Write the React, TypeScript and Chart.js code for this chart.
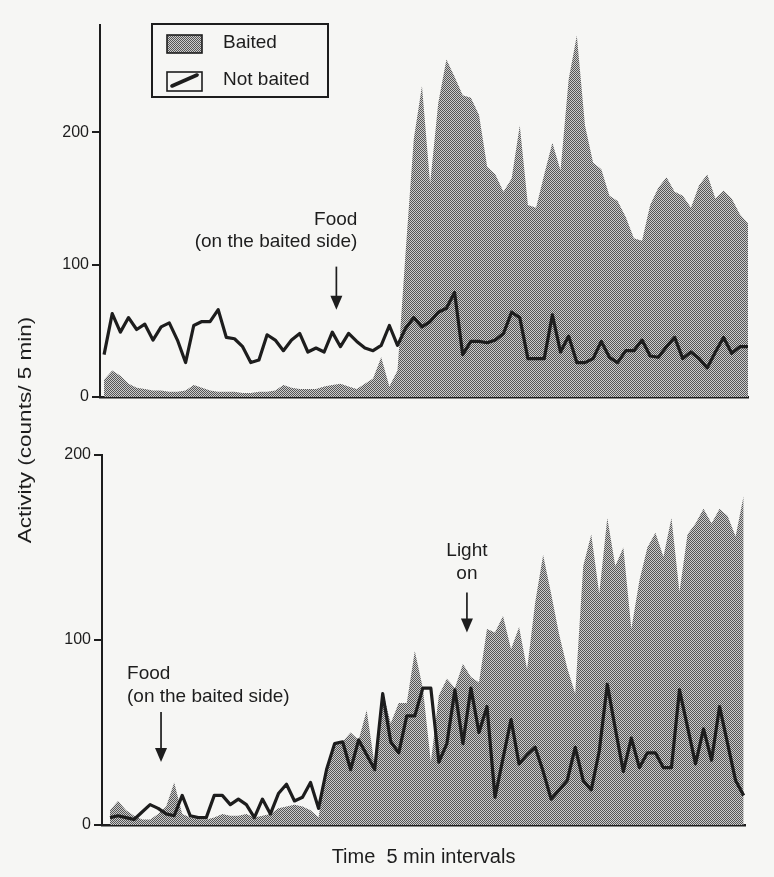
import React, { useEffect, useRef } from 'react';
import { Chart, registerables } from 'chart.js';

Chart.register(...registerables);

// ---------- data (counts / 5 min, one value per 5-min interval) ----------
const TOP_NOT_BAITED = [
  32, 63, 49, 60, 51, 55, 43, 53, 56, 43,
  26, 54, 57, 57, 66, 45, 44, 38, 26, 28,
  47, 43, 35, 43, 48, 34, 37, 34, 49, 38,
  48, 42, 37, 35, 39, 54, 39, 52, 60, 53,
  57, 64, 67, 79, 32, 42, 42, 41, 43, 48,
  64, 60, 29, 29, 29, 62, 34, 46, 26, 26,
  29, 42, 30, 26, 35, 35, 43, 31, 30, 38,
  45, 29, 34, 29, 22, 34, 45, 33, 38, 38,
];
const TOP_BAITED = [
  13, 20, 16, 10, 7, 6, 5, 5, 4, 4,
  5, 9, 7, 5, 4, 4, 4, 3, 3, 4,
  4, 5, 9, 7, 6, 6, 6, 8, 9, 10,
  8, 6, 10, 14, 30, 8, 20, 110, 195, 235,
  161, 222, 255, 242, 228, 226, 213, 174, 168, 155,
  165, 205, 145, 143, 168, 192, 171, 240, 273, 205,
  177, 172, 152, 148, 136, 120, 118, 145, 158, 166,
  155, 152, 143, 160, 168, 150, 156, 150, 138, 131,
];
const BOTTOM_NOT_BAITED = [
  4, 5, 4, 3, 7, 11, 9, 6, 5, 16,
  5, 4, 4, 16, 16, 11, 14, 11, 4, 14,
  6, 17, 22, 13, 15, 23, 9, 30, 44, 45,
  30, 46, 38, 30, 71, 45, 39, 59, 59, 74,
  74, 34, 44, 73, 44, 74, 50, 64, 15, 36,
  57, 33, 38, 42, 29, 14, 19, 24, 42, 24,
  19, 40, 76, 52, 29, 47, 31, 39, 39, 31,
  31, 73, 53, 33, 52, 35, 64, 44, 24, 16,
];
const BOTTOM_BAITED = [
  8, 13, 8, 5, 3, 3, 6, 10, 23, 6,
  4, 3, 3, 4, 6, 5, 5, 6, 4, 5,
  6, 9, 10, 11, 10, 8, 4, 32, 44, 45,
  50, 46, 62, 32, 72, 55, 66, 66, 94, 74,
  34, 70, 79, 74, 87, 80, 77, 106, 104, 113,
  95, 107, 84, 120, 146, 125, 103, 85, 71, 140,
  157, 125, 166, 140, 150, 106, 132, 150, 158, 145,
  166, 126, 157, 163, 171, 163, 171, 167, 156, 178,
];
const Y_TICKS_TOP = [0, 100, 200];
const Y_TICKS_BOTTOM = [0, 100, 200];
const SERIES_LABELS = ['Baited', 'Not baited'];
const Y_TITLE = 'Activity (counts/ 5 min)';
const X_TITLE = 'Time  5 min intervals';

const TOP_NOTES = [
  { lines: ['Food', '(on the baited side)'], index: 28.5, value: 66, arrowLen: 43, align: 'right', dx: 21, dy: -90, gap: 22 },
];
const BOTTOM_NOTES = [
  { lines: ['Food', '(on the baited side)'], index: 6.36, value: 34, arrowLen: 50, align: 'left', dx: -34, dy: -88, gap: 23 },
  { lines: ['Light', 'on'], index: 44.5, value: 104, arrowLen: 40, align: 'center', dx: 0, dy: -82, gap: 23 },
];

// ---------- styling ----------
const W = 774;
const H = 877;
const FONT = '"Liberation Sans", Arial, Helvetica, sans-serif';
const INK = '#1d1d1d';
const PAPER = '#f6f6f4';

function makeStipple(ctx: CanvasRenderingContext2D): CanvasPattern | string {
  const c = document.createElement('canvas');
  c.width = 2;
  c.height = 2;
  const g = c.getContext('2d');
  if (!g) return '#999';
  g.fillStyle = '#cccccc';
  g.fillRect(0, 0, 2, 2);
  g.fillStyle = '#555555';
  g.fillRect(0, 0, 1, 1);
  g.fillRect(1, 1, 1, 1);
  return ctx.createPattern(c, 'repeat') || '#999';
}

const toXY = (arr: number[]) => arr.map((v, i) => ({ x: i, y: v }));

function yScale(max: number, ticks: number[], width: number) {
  return {
    type: 'linear',
    min: 0,
    max,
    afterBuildTicks: (s: any) => {
      s.ticks = ticks.map((v) => ({ value: v }));
    },
    afterFit: (s: any) => {
      s.width = width;
    },
    ticks: { color: INK, font: { family: FONT, size: 16 }, padding: 3 },
    grid: { drawOnChartArea: false, drawTicks: true, tickLength: 8, color: INK, lineWidth: 2 },
    border: { display: true, color: INK, width: 2 },
  };
}

function xScale(min: number, max: number, height: number, title?: string) {
  return {
    type: 'linear',
    min,
    max,
    afterFit: (s: any) => {
      s.height = height;
    },
    ticks: { display: false },
    grid: { display: false },
    border: { display: true, color: INK, width: 2.5 },
    title: title
      ? { display: true, text: title, color: INK, font: { family: FONT, size: 20 }, padding: { top: 0, bottom: 8 } }
      : { display: false },
  };
}

function datasets(notBaited: number[], baited: number[], pattern: CanvasPattern | string) {
  return [
    {
      label: SERIES_LABELS[1],
      data: toXY(notBaited),
      borderColor: INK,
      borderWidth: 3.2,
      borderJoinStyle: 'round',
      pointRadius: 0,
      tension: 0,
      fill: false,
      order: 0,
    },
    {
      label: SERIES_LABELS[0],
      data: toXY(baited),
      backgroundColor: pattern,
      borderColor: 'rgba(0,0,0,0)',
      borderWidth: 0,
      pointRadius: 0,
      tension: 0,
      fill: 'origin',
      order: 1,
    },
  ];
}

function drawNotes(chart: any, notes: any[]) {
  const { ctx, scales } = chart;
  notes.forEach((n) => {
    const x = scales.x.getPixelForValue(n.index);
    const tip = scales.y.getPixelForValue(n.value);
    ctx.save();
    ctx.strokeStyle = INK;
    ctx.fillStyle = INK;
    ctx.lineWidth = 1.7;
    ctx.beginPath();
    ctx.moveTo(x, tip - n.arrowLen);
    ctx.lineTo(x, tip - 12);
    ctx.stroke();
    ctx.beginPath();
    ctx.moveTo(x - 6, tip - 14);
    ctx.lineTo(x + 6, tip - 14);
    ctx.lineTo(x, tip);
    ctx.closePath();
    ctx.fill();
    ctx.font = `19px ${FONT}`;
    ctx.textAlign = n.align;
    ctx.textBaseline = 'middle';
    n.lines.forEach((t: string, k: number) => ctx.fillText(t, x + n.dx, tip + n.dy + k * n.gap));
    ctx.restore();
  });
}

export default function App() {
  const topRef = useRef<HTMLCanvasElement>(null);
  const botRef = useRef<HTMLCanvasElement>(null);

  useEffect(() => {
    const topCanvas = topRef.current;
    const botCanvas = botRef.current;
    if (!topCanvas || !botCanvas) return;
    const tctx = topCanvas.getContext('2d') as CanvasRenderingContext2D;
    const bctx = botCanvas.getContext('2d') as CanvasRenderingContext2D;
    const topPattern = makeStipple(tctx);
    const botPattern = makeStipple(bctx);

    const legendPlugin = {
      id: 'boxLegend',
      afterDraw(chart: any) {
        const ctx = chart.ctx;
        const L = chart.chartArea.left;
        ctx.save();
        ctx.strokeStyle = INK;
        ctx.lineWidth = 2;
        ctx.strokeRect(L + 52, 24, 176, 73);
        ctx.fillStyle = topPattern;
        ctx.fillRect(L + 67, 35, 35, 18);
        ctx.lineWidth = 1.6;
        ctx.strokeRect(L + 67, 35, 35, 18);
        ctx.strokeRect(L + 67, 72, 35, 19);
        ctx.lineWidth = 3.6;
        ctx.lineCap = 'round';
        ctx.beginPath();
        ctx.moveTo(L + 72, 86);
        ctx.lineTo(L + 97, 75);
        ctx.stroke();
        ctx.fillStyle = INK;
        ctx.font = `19px ${FONT}`;
        ctx.textAlign = 'left';
        ctx.textBaseline = 'middle';
        ctx.fillText(SERIES_LABELS[0], L + 123, 43);
        ctx.fillText(SERIES_LABELS[1], L + 123, 80);
        ctx.restore();
      },
    };

    const topNotes = { id: 'topNotes', afterDraw: (c: any) => drawNotes(c, TOP_NOTES) };
    const botNotes = { id: 'botNotes', afterDraw: (c: any) => drawNotes(c, BOTTOM_NOTES) };
    const yTitle = {
      id: 'yTitle',
      afterDraw(chart: any) {
        const ctx = chart.ctx;
        ctx.save();
        ctx.translate(26, 430);
        ctx.rotate(-Math.PI / 2);
        ctx.scale(1.25, 1);
        ctx.fillStyle = INK;
        ctx.font = `18px ${FONT}`;
        ctx.textAlign = 'center';
        ctx.textBaseline = 'middle';
        ctx.fillText(Y_TITLE, 0, 0);
        ctx.restore();
      },
    };

    const common = {
      responsive: false,
      maintainAspectRatio: false,
      animation: false,
      devicePixelRatio: 1,
      events: [],
    };

    const top = new Chart(topCanvas, {
      type: 'line',
      data: { datasets: datasets(TOP_NOT_BAITED, TOP_BAITED, topPattern) as any },
      options: {
        ...common,
        layout: { padding: { top: 25, right: 26, bottom: 0, left: 0 } },
        plugins: { legend: { display: false }, tooltip: { enabled: false } },
        scales: {
          x: xScale(-0.5, TOP_NOT_BAITED.length - 1, H - 397) as any,
          y: yScale(281, Y_TICKS_TOP, 100) as any,
        },
      } as any,
      plugins: [legendPlugin, topNotes],
    });

    const bottom = new Chart(botCanvas, {
      type: 'line',
      data: { datasets: datasets(BOTTOM_NOT_BAITED, BOTTOM_BAITED, botPattern) as any },
      options: {
        ...common,
        layout: { padding: { top: 455, right: 29, bottom: 0, left: 0 } },
        plugins: { legend: { display: false }, tooltip: { enabled: false } },
        scales: {
          x: xScale(-1, BOTTOM_NOT_BAITED.length - 1 + 0.17, H - 825, X_TITLE) as any,
          y: yScale(200, Y_TICKS_BOTTOM, 102) as any,
        },
      } as any,
      plugins: [botNotes, yTitle],
    });

    return () => {
      top.destroy();
      bottom.destroy();
    };
  }, []);

  const canvasStyle: React.CSSProperties = { position: 'absolute', left: 0, top: 0, width: W, height: H };
  return (
    <div style={{ position: 'absolute', left: 0, top: 0, width: W, height: H, background: PAPER, overflow: 'hidden' }}>
      <canvas ref={botRef} width={W} height={H} style={canvasStyle} />
      <canvas ref={topRef} width={W} height={H} style={canvasStyle} />
    </div>
  );
}
